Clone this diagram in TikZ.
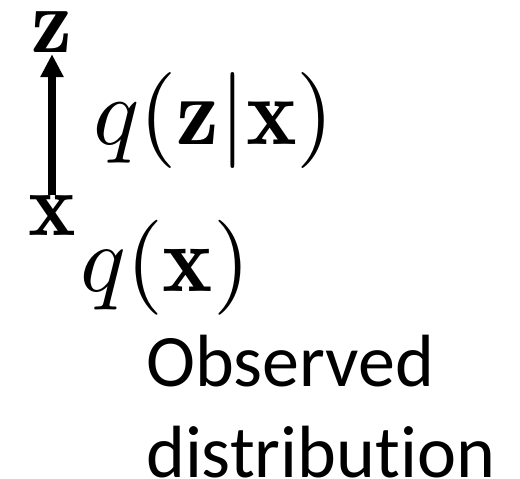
\documentclass[tikz,border=0pt]{standalone}
\usepackage{amsmath}
\usepackage{graphicx}
\usepackage{fontspec}
\setsansfont{Carlito}[Ligatures=NoCommon]
\usepackage{tikz}
\usetikzlibrary{arrows.meta,positioning}
\newcommand{\eqbig}[2]{\scalebox{#1}{$#2$}}

\begin{document}
\begin{tikzpicture}[x=1pt,y=-1pt,
  var/.style={inner sep=0pt, anchor=base},
  dist/.style={inner sep=0pt, anchor=base west},
  txt/.style={inner sep=0pt, anchor=base west, align=left,
    font=\sffamily\fontsize{74}{91}\selectfont},
  arr/.style={line width=8pt, -{Triangle[length=23pt,width=22pt]}, shorten >=2pt}]
\useasboundingbox (0,0) rectangle (520,479);
\node[var]  (z)   at (52,52)  {\eqbig{9.2}{\mathbf{z}}};
\node[var]  (x)   at (52,235) {\eqbig{9.0}{\mathbf{x}}};
\node[dist] (qzx) at (93,144) {\eqbig{9.6}{q(\mathbf{z}|\mathbf{x})}};
\node[dist] (qx)  at (80,291) {\eqbig{9.5}{q(\mathbf{x})}};
% caption of the observed side
\node[txt]  (obs) at (146,477) {Observed\\distribution};
\draw[arr] (x.north) -- (z.south);
\end{tikzpicture}
\end{document}
